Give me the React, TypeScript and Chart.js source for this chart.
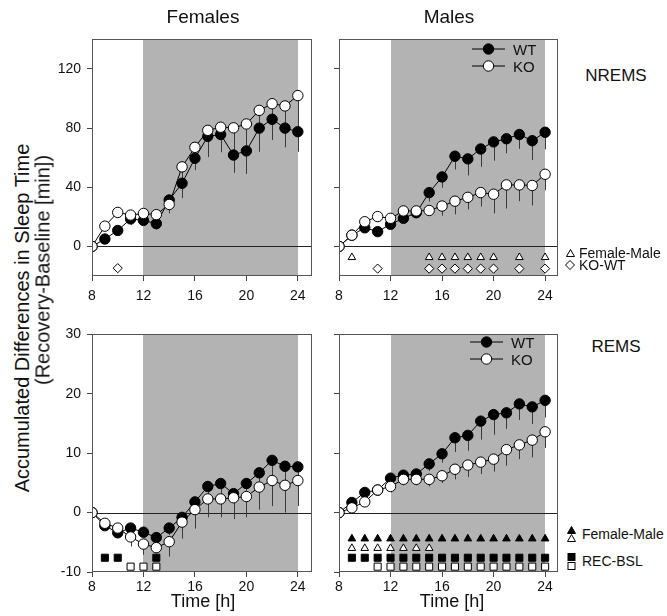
import React, { useEffect, useRef } from "react";
import { Chart, registerables } from "chart.js";

Chart.register(...registerables);

// ---------------- DATA ----------------
const hours = [8, 9, 10, 11, 12, 13, 14, 15, 16, 17, 18, 19, 20, 21, 22, 23, 24];
const xTicks = [8, 12, 16, 20, 24];
const nremsTicks = [0, 40, 80, 120];
const remsTicks = [-10, 0, 10, 20, 30];

const femNremsWT = [0, 5, 10.8, 18.6, 17.6, 15.4, 31.4, 42.7, 59.6, 74.4, 75.7, 61.8, 64.6, 80, 86, 80, 77.6];
const femNremsWTErr = [0, 1.5, 2, 4, 3, 4, 6, 10, 8, 14, 12, 12, 15.6, 16, 14, 13, 13.6];
const femNremsKO = [0, 13.7, 23, 21.2, 22.3, 21.5, 28.4, 53.8, 67, 78.5, 80.6, 80.2, 82.8, 92, 96.5, 95, 102];
const femNremsKOErr = [0, 2, 2, 2, 2, 3, 6, 8, 6, 6, 8, 18, 18, 12, 10, 15, 24];

const maleNremsWT = [0, 7.6, 12.6, 10, 15, 19, 22.8, 36.4, 47, 61, 59.2, 65.9, 70.7, 72.8, 75.7, 71.5, 77.2];
const maleNremsWTErr = [0, 1, 2, 2, 2, 3, 3, 6, 7.3, 9, 11.2, 12, 12.7, 9.8, 9.7, 13, 11.5];
const maleNremsKO = [0, 7.6, 16.7, 20.2, 19, 24, 24, 24.3, 27.3, 30.6, 33.2, 36.4, 35.3, 41.6, 41.6, 41.2, 48.8];
const maleNremsKOErr = [0, 1, 2, 2, 2, 2, 3, 3, 6.5, 8.9, 8.2, 9.4, 13, 16, 11, 13.5, 10.8];

const femRemsWT = [0, -2.2, -3.4, -2.6, -3.3, -4.2, -2.6, -0.8, 1.8, 4.4, 4.9, 3.2, 4.9, 6.7, 8.8, 7.8, 7.7];
const femRemsWTErr = [0, 0.5, 0.5, 0.8, 0.8, 1, 1.2, 1.5, 1.5, 1.8, 2, 2, 2, 2.2, 3, 2.5, 2.5];
const femRemsKO = [0, -1.8, -2.6, -4.1, -5.3, -5.9, -4.9, -1.6, 0.5, 2.3, 2.3, 2.5, 2.7, 4.3, 5.4, 4.6, 5.4];
const femRemsKOErr = [0, 0.5, 0.6, 1.6, 1.8, 1, 2.5, 2.8, 3.2, 3.1, 3.1, 3.6, 3.5, 3.8, 4.3, 4.6, 4.3];

const maleRemsWT = [0, 1.7, 3.4, 3.8, 5.8, 6.3, 6.5, 8.2, 9.9, 12.6, 13, 15.4, 16.5, 16.8, 18.3, 17.8, 18.9];
const maleRemsWTErr = [0, 0.5, 0.8, 1, 0.8, 1, 1, 1.2, 1.5, 2.4, 2.6, 3.1, 3.4, 2.7, 2.7, 2.9, 2.9];
const maleRemsKO = [0, 0.8, 1.8, 3.8, 4.4, 5.6, 5.6, 5.6, 6.2, 7.3, 8, 8.5, 9, 10.6, 11.4, 12.2, 13.6];
const maleRemsKOErr = [0, 0.5, 0.8, 1, 1, 1, 1, 1.2, 1.2, 1.7, 2, 2, 2.1, 2.7, 2.4, 2.9, 2.7];

// significance marks (hours)
const femNremsKoWtHours = [10];
const maleNremsFemMaleHours = [9, 15, 16, 17, 18, 19, 20, 22, 24];
const maleNremsKoWtHours = [11, 15, 16, 17, 18, 19, 20, 22, 24];
const femRemsRecBslWTHours = [9, 10, 13];
const femRemsRecBslKOHours = [11, 12, 13];
const maleRemsFemMaleWTHours = [9, 10, 11, 12, 13, 14, 15, 16, 17, 18, 19, 20, 21, 22, 23, 24];
const maleRemsFemMaleKOHours = [9, 10, 11, 12, 13, 14, 15];
const maleRemsRecBslWTHours = [9, 10, 11, 12, 13, 14, 15, 16, 17, 18, 19, 20, 21, 22, 23, 24];
const maleRemsRecBslKOHours = [11, 12, 13, 14, 15, 16, 17, 18, 19, 20, 21, 22, 23, 24];

// ---------------- HELPERS ----------------
const FONT = "'Liberation Sans', Arial, Helvetica, sans-serif";

function series(values: number[], errs: number[], filled: boolean, order: number) {
  return {
    data: hours.map((h, i) => ({ x: h, y: values[i] })),
    errors: errs,
    borderColor: "#000",
    borderWidth: 1,
    pointRadius: 5.2,
    pointBorderWidth: 1,
    pointBorderColor: "#000",
    pointBackgroundColor: filled ? "#000" : "#fff",
    fill: false,
    tension: 0,
    order,
  };
}

function marks(hs: number[], level: number, style: string, filled: boolean, radius: number) {
  return {
    data: hs.map((h) => ({ x: h, y: level })),
    showLine: false,
    borderColor: "#000",
    pointStyle: style,
    pointRadius: radius,
    pointBorderWidth: 1,
    pointBorderColor: "#000",
    pointBackgroundColor: filled ? "#000" : "#fff",
    order: 3,
  };
}

const decoPlugin = {
  id: "deco",
  beforeDatasetsDraw(chart: any) {
    const { ctx, chartArea: a, scales } = chart;
    const x = scales.x;
    const y = scales.y;
    ctx.save();
    // dark phase shading
    const x1 = Math.round(x.getPixelForValue(12));
    const x2 = Math.round(x.getPixelForValue(24));
    ctx.fillStyle = "#b3b3b3";
    ctx.fillRect(x1, a.top, x2 - x1, a.bottom - a.top);
    // zero line
    const y0 = Math.round(y.getPixelForValue(0)) + 0.5;
    ctx.strokeStyle = "#222";
    ctx.lineWidth = 1;
    ctx.beginPath();
    ctx.moveTo(a.left, y0);
    ctx.lineTo(a.right, y0);
    ctx.stroke();
    // one-sided error bars
    ctx.strokeStyle = "#3a3a3a";
    chart.data.datasets.forEach((ds: any) => {
      if (!ds.errors) return;
      ds.data.forEach((p: any, i: number) => {
        const e = ds.errors[i];
        if (!e) return;
        const px = Math.round(x.getPixelForValue(p.x)) + 0.5;
        ctx.beginPath();
        ctx.moveTo(px, y.getPixelForValue(p.y));
        ctx.lineTo(px, y.getPixelForValue(p.y - e));
        ctx.stroke();
      });
    });
    ctx.restore();
  },
  afterDraw(chart: any) {
    const { ctx, chartArea: a } = chart;
    ctx.save();
    ctx.strokeStyle = "#555";
    ctx.lineWidth = 1;
    ctx.strokeRect(Math.round(a.left) + 0.5, Math.round(a.top) + 0.5, Math.round(a.right - a.left) - 1, Math.round(a.bottom - a.top) - 1);
    ctx.restore();
  },
};

type PanelDef = {
  left: number;
  top: number;
  right: number;
  bottom: number;
  xMax: number;
  yMin: number;
  yMax: number;
  yTicks: number[];
  showYLabels: boolean;
  xLabelPad: number;
  datasets: any[];
};

const AX_L = 50;
const PAD_T = 6;
const PAD_R = 8;
const AX_B = 36;

function Panel({ p }: { p: PanelDef }) {
  const ref = useRef<HTMLCanvasElement>(null);
  const W = p.right - p.left + AX_L + PAD_R;
  const H = p.bottom - p.top + PAD_T + AX_B;
  useEffect(() => {
    if (!ref.current) return;
    const chart = new Chart(ref.current, {
      type: "line",
      data: { datasets: p.datasets },
      options: {
        animation: false,
        responsive: false,
        maintainAspectRatio: false,
        layout: { padding: { top: PAD_T, right: PAD_R, left: 0, bottom: 0 } },
        plugins: { legend: { display: false }, tooltip: { enabled: false } },
        scales: {
          x: {
            type: "linear",
            min: 8,
            max: p.xMax,
            afterBuildTicks: (s: any) => {
              s.ticks = xTicks.map((v) => ({ value: v }));
            },
            afterFit: (s: any) => {
              s.height = AX_B;
            },
            grid: { drawOnChartArea: false, drawTicks: true, tickLength: 5, color: "#444" },
            border: { display: false },
            ticks: { font: { family: FONT, size: 14 }, color: "#111", padding: p.xLabelPad, maxRotation: 0, autoSkip: false },
          },
          y: {
            type: "linear",
            min: p.yMin,
            max: p.yMax,
            afterBuildTicks: (s: any) => {
              s.ticks = p.yTicks.map((v) => ({ value: v }));
            },
            afterFit: (s: any) => {
              s.width = AX_L;
            },
            grid: { drawOnChartArea: false, drawTicks: true, tickLength: 5, color: "#444" },
            border: { display: false },
            ticks: {
              font: { family: FONT, size: 14 },
              color: p.showYLabels ? "#111" : "rgba(0,0,0,0)",
              padding: 6,
              autoSkip: false,
            },
          },
        },
      } as any,
      plugins: [decoPlugin],
    });
    return () => chart.destroy();
  }, []);
  return (
    <canvas
      ref={ref}
      width={W}
      height={H}
      style={{ position: "absolute", left: p.left - AX_L, top: p.top - PAD_T, width: W, height: H }}
    />
  );
}

function SeriesLegend({ x, y }: { x: number; y: number }) {
  const row = (dy: number, filled: boolean, label: string) => (
    <div style={{ position: "absolute", left: x, top: y + dy - 9, height: 18, display: "flex", alignItems: "center" }}>
      <svg width={34} height={14} style={{ display: "block" }}>
        <line x1={0} y1={7} x2={33} y2={7} stroke="#000" strokeWidth={1} />
        <circle cx={16.5} cy={7} r={5.2} fill={filled ? "#000" : "#fff"} stroke="#000" strokeWidth={1} />
      </svg>
      <span style={{ marginLeft: 7, fontFamily: FONT, fontSize: 15, color: "#111" }}>{label}</span>
    </div>
  );
  return (
    <>
      {row(0, true, "WT")}
      {row(17, false, "KO")}
    </>
  );
}

const tri = (filled: boolean) => (
  <svg width={9} height={8} style={{ display: "block" }}>
    <polygon points="4.5,0.5 8.5,7.5 0.5,7.5" fill={filled ? "#000" : "#fff"} stroke="#000" strokeWidth={1} />
  </svg>
);
const sq = (filled: boolean) => (
  <svg width={9} height={8} style={{ display: "block" }}>
    <rect x={1} y={0.5} width={7} height={7} fill={filled ? "#000" : "#fff"} stroke="#000" strokeWidth={1} />
  </svg>
);
const dia = () => (
  <svg width={10} height={10} style={{ display: "block" }}>
    <polygon points="5,0.5 9.5,5 5,9.5 0.5,5" fill="#fff" stroke="#000" strokeWidth={1} />
  </svg>
);

const txt: React.CSSProperties = { fontFamily: FONT, color: "#111", position: "absolute", whiteSpace: "nowrap" };

export default function App() {
  const panels: PanelDef[] = [
    {
      left: 92, top: 31, right: 312, bottom: 276, xMax: 25.1, yMin: -20, yMax: 140, yTicks: nremsTicks, showYLabels: true, xLabelPad: 7,
      datasets: [
        series(femNremsKO, femNremsKOErr, false, 0),
        series(femNremsWT, femNremsWTErr, true, 1),
        marks(femNremsKoWtHours, -14.7, "rectRot", false, 4.6),
      ],
    },
    {
      left: 339, top: 31, right: 558, bottom: 276, xMax: 25.0, yMin: -20, yMax: 140, yTicks: nremsTicks, showYLabels: false, xLabelPad: 7,
      datasets: [
        series(maleNremsKO, maleNremsKOErr, false, 0),
        series(maleNremsWT, maleNremsWTErr, true, 1),
        marks(maleNremsFemMaleHours, -7.4, "triangle", false, 4.4),
        marks(maleNremsKoWtHours, -15, "rectRot", false, 4.6),
      ],
    },
    {
      left: 92, top: 326, right: 312, bottom: 572, xMax: 25.1, yMin: -10, yMax: 30, yTicks: remsTicks, showYLabels: true, xLabelPad: 2,
      datasets: [
        series(femRemsKO, femRemsKOErr, false, 0),
        series(femRemsWT, femRemsWTErr, true, 1),
        marks(femRemsRecBslWTHours, -7.6, "rect", true, 5),
        marks(femRemsRecBslKOHours, -9.1, "rect", false, 5),
      ],
    },
    {
      left: 339, top: 326, right: 558, bottom: 572, xMax: 25.0, yMin: -10, yMax: 30, yTicks: remsTicks, showYLabels: false, xLabelPad: 2,
      datasets: [
        series(maleRemsKO, maleRemsKOErr, false, 0),
        series(maleRemsWT, maleRemsWTErr, true, 1),
        marks(maleRemsFemMaleWTHours, -4.4, "triangle", true, 4.4),
        marks(maleRemsFemMaleKOHours, -6, "triangle", false, 4.4),
        marks(maleRemsRecBslWTHours, -7.6, "rect", true, 5),
        marks(maleRemsRecBslKOHours, -9.1, "rect", false, 5),
      ],
    },
  ];

  return (
    <div style={{ position: "absolute", left: 0, top: 0, width: 667, height: 616, background: "#fff", overflow: "hidden" }}>
      {panels.map((p, i) => (
        <Panel key={i} p={p} />
      ))}

      {/* column titles */}
      <div style={{ ...txt, left: 203, top: 17, fontSize: 19, transform: "translate(-50%,-50%)" }}>Females</div>
      <div style={{ ...txt, left: 449, top: 17, fontSize: 19, transform: "translate(-50%,-50%)" }}>Males</div>

      {/* row labels */}
      <div style={{ ...txt, left: 616, top: 76, fontSize: 17, transform: "translate(-50%,-50%)" }}>NREMS</div>
      <div style={{ ...txt, left: 616, top: 347, fontSize: 17, transform: "translate(-50%,-50%)" }}>REMS</div>

      {/* y axis title */}
      <div style={{ ...txt, left: 22, top: 318, fontSize: 20, transform: "translate(-50%,-50%) rotate(-90deg)" }}>
        Accumulated Differences in Sleep Time
      </div>
      <div style={{ ...txt, left: 43, top: 270, fontSize: 20, transform: "translate(-50%,-50%) rotate(-90deg)" }}>
        (Recovery-Baseline [min])
      </div>

      {/* x axis titles */}
      <div style={{ ...txt, left: 203, top: 601, fontSize: 18, transform: "translate(-50%,-50%)" }}>Time [h]</div>
      <div style={{ ...txt, left: 452, top: 601, fontSize: 18, transform: "translate(-50%,-50%)" }}>Time [h]</div>

      {/* in-panel legends */}
      <SeriesLegend x={472} y={49} />
      <SeriesLegend x={470} y={342} />

      {/* significance legends, NREMS */}
      <div style={{ position: "absolute", left: 566, top: 249 }}>{tri(false)}</div>
      <div style={{ ...txt, left: 579, top: 253, fontSize: 14, transform: "translateY(-50%)" }}>Female-Male</div>
      <div style={{ position: "absolute", left: 565, top: 260 }}>{dia()}</div>
      <div style={{ ...txt, left: 579, top: 265, fontSize: 14, transform: "translateY(-50%)" }}>KO-WT</div>

      {/* significance legends, REMS */}
      <div style={{ position: "absolute", left: 567, top: 526 }}>{tri(true)}</div>
      <div style={{ position: "absolute", left: 567, top: 534 }}>{tri(false)}</div>
      <div style={{ ...txt, left: 582, top: 534, fontSize: 14, transform: "translateY(-50%)" }}>Female-Male</div>
      <div style={{ position: "absolute", left: 567, top: 553 }}>{sq(true)}</div>
      <div style={{ position: "absolute", left: 567, top: 562 }}>{sq(false)}</div>
      <div style={{ ...txt, left: 582, top: 561, fontSize: 14, transform: "translateY(-50%)" }}>REC-BSL</div>
    </div>
  );
}
